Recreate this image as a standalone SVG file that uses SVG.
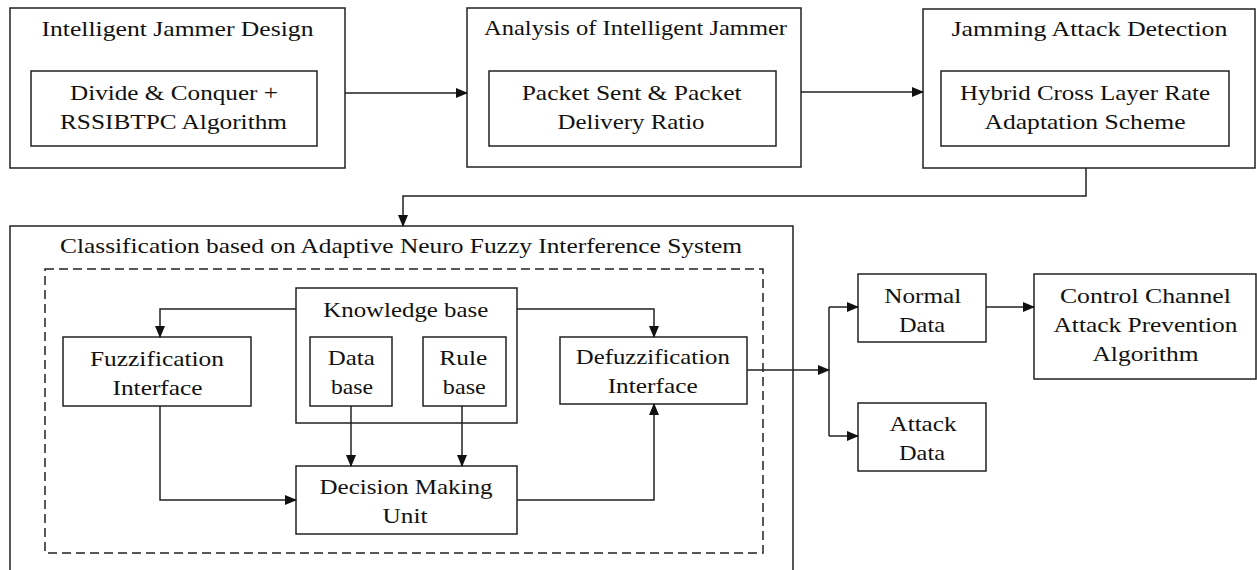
<svg xmlns="http://www.w3.org/2000/svg" width="1257" height="570" viewBox="0 0 1257 570">
  <style>
    .box { fill: #ffffff; stroke: #222222; stroke-width: 1.5; }
    .dash { fill: none; stroke: #222222; stroke-width: 1.5; stroke-dasharray: 9 5; }
    .wire { fill: none; stroke: #222222; stroke-width: 1.5; }
    text { font-family: "Liberation Serif", "Times New Roman", serif; font-size: 22px; fill: #111111; text-anchor: middle; }
  </style>
  <defs>
    <marker id="arrow" markerUnits="userSpaceOnUse" markerWidth="12" markerHeight="10" refX="11" refY="5" orient="auto">
      <path d="M0,0 L12,5 L0,10 Z" fill="#111111"/>
    </marker>
  </defs>

  <!-- top stage 1 -->
  <g id="jammer-design">
    <rect class="box" x="10" y="8" width="335" height="160"/>
    <text x="177.5" y="36" textLength="272" lengthAdjust="spacingAndGlyphs">Intelligent Jammer Design</text>
    <rect class="box" x="31" y="71" width="286" height="75"/>
    <text x="174" y="100" textLength="208" lengthAdjust="spacingAndGlyphs">Divide &amp; Conquer +</text>
    <text x="173.5" y="129" textLength="227" lengthAdjust="spacingAndGlyphs">RSSIBTPC Algorithm</text>
  </g>

  <!-- top stage 2 -->
  <g id="jammer-analysis">
    <rect class="box" x="467" y="8" width="334" height="159"/>
    <text x="635.5" y="35" textLength="303" lengthAdjust="spacingAndGlyphs">Analysis of Intelligent Jammer</text>
    <rect class="box" x="489" y="71" width="287" height="75"/>
    <text x="631.7" y="100" textLength="220" lengthAdjust="spacingAndGlyphs">Packet Sent &amp; Packet</text>
    <text x="631" y="129" textLength="147" lengthAdjust="spacingAndGlyphs">Delivery Ratio</text>
  </g>

  <!-- top stage 3 -->
  <g id="attack-detection">
    <rect class="box" x="923" y="9" width="332" height="159"/>
    <text x="1089.5" y="36" textLength="276" lengthAdjust="spacingAndGlyphs">Jamming Attack Detection</text>
    <rect class="box" x="941" y="71" width="288" height="75"/>
    <text x="1085" y="100" textLength="250" lengthAdjust="spacingAndGlyphs">Hybrid Cross Layer Rate</text>
    <text x="1085" y="129" textLength="201" lengthAdjust="spacingAndGlyphs">Adaptation Scheme</text>
  </g>

  <!-- ANFIS classification block -->
  <g id="anfis">
    <path class="wire" d="M10,572 L10,226 L793,226 L793,572"/>
    <text x="401" y="253" textLength="682" lengthAdjust="spacingAndGlyphs">Classification based on Adaptive Neuro Fuzzy Interference System</text>
    <rect class="dash" x="45" y="269" width="718" height="284"/>
  </g>

  <g id="knowledge-base">
    <rect class="box" x="296" y="288" width="221" height="135"/>
    <text x="405.8" y="317" textLength="165" lengthAdjust="spacingAndGlyphs">Knowledge base</text>
  </g>

  <g id="data-base">
    <rect class="box" x="310" y="337" width="82" height="69"/>
    <text x="351.3" y="365" textLength="47" lengthAdjust="spacingAndGlyphs">Data</text>
    <text x="352" y="394" textLength="42" lengthAdjust="spacingAndGlyphs">base</text>
  </g>

  <g id="rule-base">
    <rect class="box" x="423" y="337" width="83" height="69"/>
    <text x="463.3" y="365" textLength="48" lengthAdjust="spacingAndGlyphs">Rule</text>
    <text x="464.3" y="394" textLength="43" lengthAdjust="spacingAndGlyphs">base</text>
  </g>

  <g id="fuzzification">
    <rect class="box" x="63" y="337" width="188" height="69"/>
    <text x="157" y="366" textLength="134" lengthAdjust="spacingAndGlyphs">Fuzzification</text>
    <text x="157.5" y="395" textLength="90" lengthAdjust="spacingAndGlyphs">Interface</text>
  </g>

  <g id="defuzzification">
    <rect class="box" x="560" y="337" width="187" height="67"/>
    <text x="652.8" y="364" textLength="154" lengthAdjust="spacingAndGlyphs">Defuzzification</text>
    <text x="652.7" y="393" textLength="90" lengthAdjust="spacingAndGlyphs">Interface</text>
  </g>

  <g id="decision-unit">
    <rect class="box" x="296" y="466" width="221" height="68"/>
    <text x="406" y="494" textLength="173" lengthAdjust="spacingAndGlyphs">Decision Making</text>
    <text x="405" y="523" textLength="45" lengthAdjust="spacingAndGlyphs">Unit</text>
  </g>

  <g id="normal-data">
    <rect class="box" x="858" y="274" width="128" height="68"/>
    <text x="922.7" y="303" textLength="77" lengthAdjust="spacingAndGlyphs">Normal</text>
    <text x="922" y="332" textLength="46" lengthAdjust="spacingAndGlyphs">Data</text>
  </g>

  <g id="attack-data">
    <rect class="box" x="858" y="403" width="128" height="68"/>
    <text x="923" y="431" textLength="67" lengthAdjust="spacingAndGlyphs">Attack</text>
    <text x="922" y="460" textLength="46" lengthAdjust="spacingAndGlyphs">Data</text>
  </g>

  <g id="prevention">
    <rect class="box" x="1034" y="274" width="222" height="105"/>
    <text x="1145.4" y="303" textLength="171" lengthAdjust="spacingAndGlyphs">Control Channel</text>
    <text x="1145.5" y="332" textLength="184" lengthAdjust="spacingAndGlyphs">Attack Prevention</text>
    <text x="1145.5" y="361" textLength="106" lengthAdjust="spacingAndGlyphs">Algorithm</text>
  </g>

  <!-- connectors -->
  <g id="connectors">
    <path class="wire" d="M345,93 L467,93" marker-end="url(#arrow)"/>
    <path class="wire" d="M801,92 L923,92" marker-end="url(#arrow)"/>
    <path class="wire" d="M1086,168 L1086,196 L403,196 L403,226" marker-end="url(#arrow)"/>
    <path class="wire" d="M296,309 L160,309 L160,337" marker-end="url(#arrow)"/>
    <path class="wire" d="M517,309 L654,309 L654,337" marker-end="url(#arrow)"/>
    <path class="wire" d="M351,406 L351,466" marker-end="url(#arrow)"/>
    <path class="wire" d="M462,406 L462,466" marker-end="url(#arrow)"/>
    <path class="wire" d="M160,406 L160,500 L296,500" marker-end="url(#arrow)"/>
    <path class="wire" d="M517,500 L654,500 L654,404" marker-end="url(#arrow)"/>
    <path class="wire" d="M747,370 L829,370" marker-end="url(#arrow)"/>
    <path class="wire" d="M829,307 L829,436"/>
    <path class="wire" d="M829,307 L858,307" marker-end="url(#arrow)"/>
    <path class="wire" d="M829,436 L858,436" marker-end="url(#arrow)"/>
    <path class="wire" d="M986,307 L1034,307" marker-end="url(#arrow)"/>
  </g>
</svg>
